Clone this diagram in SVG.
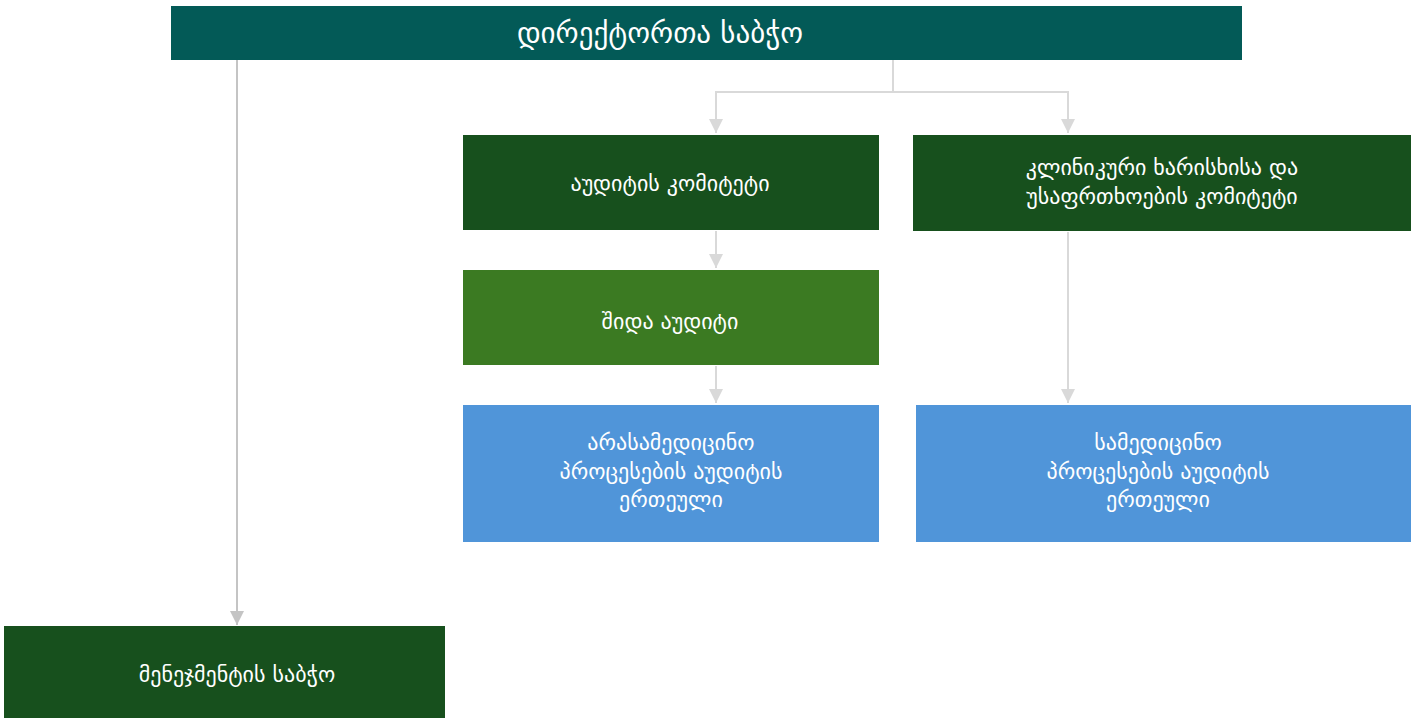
<svg xmlns="http://www.w3.org/2000/svg" width="1417" height="719" viewBox="0 0 1417 719">
<style>
.t{font-family:"DejaVu Sans","Noto Sans",sans-serif;fill:#ffffff;text-anchor:middle;font-size:22px}
.c{fill:none;stroke:#d9d9d9;stroke-width:2}
</style>
<defs>
<marker id="a2" markerWidth="16" markerHeight="16" refX="14" refY="7" orient="auto" markerUnits="userSpaceOnUse">
<path d="M0,0 L14,7 L0,14 Z" fill="#d9d9d9"/>
</marker>
<marker id="a3" markerWidth="16" markerHeight="16" refX="14" refY="7" orient="auto" markerUnits="userSpaceOnUse">
<path d="M0,0 L14,7 L0,14 Z" fill="#c4c4c4"/>
</marker>
</defs>
<g id="connectors">
<path class="c" d="M893,60 V92 H716 V133" marker-end="url(#a2)"/>
<path class="c" d="M893,92 H1068 V133" marker-end="url(#a2)"/>
<path class="c" d="M716,231 V268" marker-end="url(#a2)"/>
<path class="c" d="M716,366 V403" marker-end="url(#a2)"/>
<path class="c" d="M1068,232 V403" marker-end="url(#a2)"/>
<path class="c" style="stroke:#c4c4c4" d="M237,60 V625" marker-end="url(#a3)"/>
</g>
<g id="board">
<rect x="171" y="6" width="1071" height="54" fill="#035a57"/>
<text class="t" x="660" y="43" style="font-size:29px">დირექტორთა საბჭო</text>
</g>
<g id="audit-committee">
<rect x="463" y="135" width="416" height="95" fill="#17501d"/>
<text class="t" x="670" y="191">აუდიტის კომიტეტი</text>
</g>
<g id="clinical-committee">
<rect x="913" y="135" width="498" height="96" fill="#17501d"/>
<text class="t" x="1162" y="175">კლინიკური ხარისხისა და</text>
<text class="t" x="1162" y="204">უსაფრთხოების კომიტეტი</text>
</g>
<g id="internal-audit">
<rect x="463" y="270" width="416" height="95" fill="#3b7a22"/>
<text class="t" x="670" y="329">შიდა აუდიტი</text>
</g>
<g id="nonmedical-unit">
<rect x="463" y="405" width="416" height="137" fill="#5095d9"/>
<text class="t" x="671" y="450">არასამედიცინო</text>
<text class="t" x="671" y="479">პროცესების აუდიტის</text>
<text class="t" x="671" y="507">ერთეული</text>
</g>
<g id="medical-unit">
<rect x="916" y="405" width="495" height="137" fill="#5095d9"/>
<text class="t" x="1158" y="450">სამედიცინო</text>
<text class="t" x="1158" y="479">პროცესების აუდიტის</text>
<text class="t" x="1158" y="507">ერთეული</text>
</g>
<g id="management-board">
<rect x="4" y="626" width="441" height="92" fill="#17501d"/>
<text class="t" x="237" y="682">მენეჯმენტის საბჭო</text>
</g>
</svg>
